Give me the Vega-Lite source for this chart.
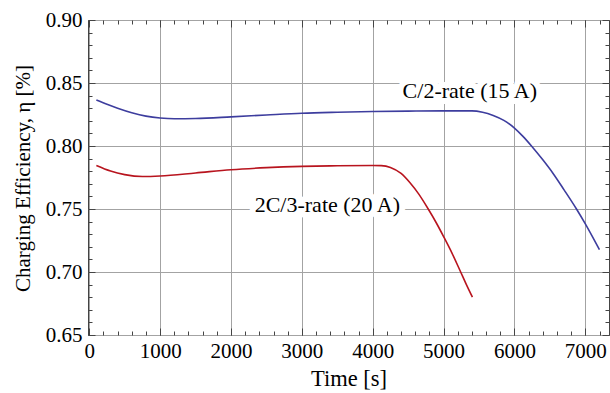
{
  "$schema": "https://vega.github.io/schema/vega-lite/v6.json",
  "width": 521,
  "height": 315,
  "autosize": "none",
  "padding": {"left": 88, "top": 20, "right": 1, "bottom": 58},
  "background": "white",
  "config": {
    "view": {"stroke": "#444444", "strokeWidth": 1},
    "axis": {
      "labelFont": "Liberation Serif",
      "titleFont": "Liberation Serif",
      "labelColor": "black",
      "titleColor": "black",
      "titleFontWeight": "normal",
      "gridColor": "#a3a3a3",
      "gridWidth": 1,
      "gridOpacity": 1,
      "tickColor": "#444444"
    }
  },
  "datasets": {
    "curves": [
      {"series": "C/2", "t": 100, "eff": 0.8365},
      {"series": "C/2", "t": 250, "eff": 0.8331},
      {"series": "C/2", "t": 400, "eff": 0.8300},
      {"series": "C/2", "t": 600, "eff": 0.8264},
      {"series": "C/2", "t": 800, "eff": 0.8237},
      {"series": "C/2", "t": 1000, "eff": 0.8222},
      {"series": "C/2", "t": 1200, "eff": 0.8216},
      {"series": "C/2", "t": 1500, "eff": 0.8218},
      {"series": "C/2", "t": 2000, "eff": 0.8231},
      {"series": "C/2", "t": 2500, "eff": 0.8246},
      {"series": "C/2", "t": 3000, "eff": 0.8260},
      {"series": "C/2", "t": 3500, "eff": 0.8268},
      {"series": "C/2", "t": 4000, "eff": 0.8274},
      {"series": "C/2", "t": 4500, "eff": 0.8277},
      {"series": "C/2", "t": 5000, "eff": 0.8279},
      {"series": "C/2", "t": 5400, "eff": 0.8279},
      {"series": "C/2", "t": 5550, "eff": 0.8268},
      {"series": "C/2", "t": 5700, "eff": 0.8242},
      {"series": "C/2", "t": 5850, "eff": 0.8203},
      {"series": "C/2", "t": 6000, "eff": 0.8142},
      {"series": "C/2", "t": 6120, "eff": 0.8076},
      {"series": "C/2", "t": 6240, "eff": 0.8000},
      {"series": "C/2", "t": 6400, "eff": 0.7890},
      {"series": "C/2", "t": 6545, "eff": 0.7782},
      {"series": "C/2", "t": 6700, "eff": 0.7652},
      {"series": "C/2", "t": 6875, "eff": 0.7500},
      {"series": "C/2", "t": 7000, "eff": 0.7382},
      {"series": "C/2", "t": 7100, "eff": 0.7281},
      {"series": "C/2", "t": 7200, "eff": 0.7177},
      {"series": "2C/3", "t": 100, "eff": 0.7845},
      {"series": "2C/3", "t": 300, "eff": 0.7801},
      {"series": "2C/3", "t": 500, "eff": 0.7773},
      {"series": "2C/3", "t": 750, "eff": 0.7758},
      {"series": "2C/3", "t": 1000, "eff": 0.7762},
      {"series": "2C/3", "t": 1500, "eff": 0.7786},
      {"series": "2C/3", "t": 2000, "eff": 0.7812},
      {"series": "2C/3", "t": 2500, "eff": 0.7828},
      {"series": "2C/3", "t": 3000, "eff": 0.7838},
      {"series": "2C/3", "t": 3500, "eff": 0.7843},
      {"series": "2C/3", "t": 4000, "eff": 0.7845},
      {"series": "2C/3", "t": 4120, "eff": 0.7844},
      {"series": "2C/3", "t": 4250, "eff": 0.7830},
      {"series": "2C/3", "t": 4400, "eff": 0.7782},
      {"series": "2C/3", "t": 4523, "eff": 0.7710},
      {"series": "2C/3", "t": 4650, "eff": 0.7618},
      {"series": "2C/3", "t": 4781, "eff": 0.7502},
      {"series": "2C/3", "t": 4900, "eff": 0.7387},
      {"series": "2C/3", "t": 5000, "eff": 0.7281},
      {"series": "2C/3", "t": 5120, "eff": 0.7148},
      {"series": "2C/3", "t": 5228, "eff": 0.7016},
      {"series": "2C/3", "t": 5320, "eff": 0.6902},
      {"series": "2C/3", "t": 5407, "eff": 0.6800}
    ],
    "labels": [
      {"label": "C/2-rate (15 A)", "t": 5370, "eff": 0.8438},
      {"label": "2C/3-rate (20 A)", "t": 3360, "eff": 0.7530}
    ]
  },
  "layer": [
    {
      "data": {"name": "curves"},
      "mark": {"type": "line", "strokeWidth": 1.6, "interpolate": "monotone"},
      "encoding": {
        "x": {
          "field": "t", "type": "quantitative",
          "scale": {"domain": [-18, 7334], "nice": false, "zero": false},
          "axis": {
            "orient": "bottom",
            "values": [0, 1000, 2000, 3000, 4000, 5000, 6000, 7000],
            "format": "d",
            "grid": true, "ticks": false, "domain": false,
            "labelFontSize": 21, "labelPadding": 5,
            "title": "Time [s]", "titleFontSize": 22.5,
            "titleBaseline": "alphabetic", "titleX": 260.5, "titleY": 50
          }
        },
        "y": {
          "field": "eff", "type": "quantitative",
          "scale": {"domain": [0.65, 0.9], "nice": false, "zero": false},
          "axis": {
            "orient": "left",
            "values": [0.65, 0.7, 0.75, 0.8, 0.85, 0.9],
            "format": ".2f",
            "grid": true, "ticks": false, "domain": false,
            "labelFontSize": 21, "labelPadding": 6,
            "title": "Charging Efficiency, η [%]", "titleFontSize": 21,
            "titleBaseline": "alphabetic", "titleX": -59, "titleY": 158
          }
        },
        "color": {
          "field": "series", "type": "nominal",
          "scale": {"domain": ["C/2", "2C/3"], "range": ["#3d3d9e", "#b8141e"]},
          "legend": null
        }
      }
    },
    {
      "data": {"name": "curves"},
      "mark": {"type": "point", "opacity": 0},
      "encoding": {
        "x": {
          "field": "t", "type": "quantitative",
          "scale": {"domain": [-18, 7334], "nice": false, "zero": false},
          "axis": {
            "orient": "bottom",
            "values": [0, 200, 400, 600, 800, 1000, 1200, 1400, 1600, 1800, 2000, 2200, 2400, 2600, 2800, 3000, 3200, 3400, 3600, 3800, 4000, 4200, 4400, 4600, 4800, 5000, 5200, 5400, 5600, 5800, 6000, 6200, 6400, 6600, 6800, 7000, 7200],
            "labels": false, "grid": false, "domain": false,
            "ticks": true, "tickSize": -4, "title": null
          }
        },
        "y": {
          "field": "eff", "type": "quantitative",
          "scale": {"domain": [0.65, 0.9], "nice": false, "zero": false},
          "axis": {
            "orient": "left",
            "values": [0.65, 0.66, 0.67, 0.68, 0.69, 0.7, 0.71, 0.72, 0.73, 0.74, 0.75, 0.76, 0.77, 0.78, 0.79, 0.8, 0.81, 0.82, 0.83, 0.84, 0.85, 0.86, 0.87, 0.88, 0.89, 0.9],
            "labels": false, "grid": false, "domain": false,
            "ticks": true, "tickSize": -4, "title": null
          }
        }
      }
    },
    {
      "data": {"name": "curves"},
      "mark": {"type": "point", "opacity": 0},
      "encoding": {
        "x": {
          "field": "t", "type": "quantitative",
          "scale": {"domain": [-18, 7334], "nice": false, "zero": false},
          "axis": {
            "orient": "bottom",
            "values": [0, 1000, 2000, 3000, 4000, 5000, 6000, 7000],
            "labels": false, "grid": false, "domain": false,
            "ticks": true, "tickSize": -7, "title": null
          }
        },
        "y": {
          "field": "eff", "type": "quantitative",
          "scale": {"domain": [0.65, 0.9], "nice": false, "zero": false},
          "axis": {
            "orient": "left",
            "values": [0.65, 0.7, 0.75, 0.8, 0.85, 0.9],
            "labels": false, "grid": false, "domain": false,
            "ticks": true, "tickSize": -7, "title": null
          }
        }
      }
    },
    {
      "data": {"name": "curves"},
      "mark": {"type": "point", "opacity": 0},
      "encoding": {
        "x": {
          "field": "t", "type": "quantitative",
          "scale": {"domain": [-18, 7334], "nice": false, "zero": false},
          "axis": {
            "orient": "top",
            "values": [0, 1000, 2000, 3000, 4000, 5000, 6000, 7000],
            "labels": false, "grid": false, "domain": false,
            "ticks": true, "tickSize": -7, "title": null
          }
        },
        "y": {
          "field": "eff", "type": "quantitative",
          "scale": {"domain": [0.65, 0.9], "nice": false, "zero": false},
          "axis": {
            "orient": "right",
            "values": [0.65, 0.7, 0.75, 0.8, 0.85, 0.9],
            "labels": false, "grid": false, "domain": false,
            "ticks": true, "tickSize": -7, "title": null
          }
        }
      }
    },
    {
      "data": {"name": "curves"},
      "mark": {"type": "point", "opacity": 0},
      "encoding": {
        "x": {
          "field": "t", "type": "quantitative",
          "scale": {"domain": [-18, 7334], "nice": false, "zero": false},
          "axis": {
            "orient": "top",
            "values": [0, 200, 400, 600, 800, 1000, 1200, 1400, 1600, 1800, 2000, 2200, 2400, 2600, 2800, 3000, 3200, 3400, 3600, 3800, 4000, 4200, 4400, 4600, 4800, 5000, 5200, 5400, 5600, 5800, 6000, 6200, 6400, 6600, 6800, 7000, 7200],
            "labels": false, "grid": false, "domain": false,
            "ticks": true, "tickSize": -4, "title": null
          }
        },
        "y": {
          "field": "eff", "type": "quantitative",
          "scale": {"domain": [0.65, 0.9], "nice": false, "zero": false},
          "axis": {
            "orient": "right",
            "values": [0.65, 0.66, 0.67, 0.68, 0.69, 0.7, 0.71, 0.72, 0.73, 0.74, 0.75, 0.76, 0.77, 0.78, 0.79, 0.8, 0.81, 0.82, 0.83, 0.84, 0.85, 0.86, 0.87, 0.88, 0.89, 0.9],
            "labels": false, "grid": false, "domain": false,
            "ticks": true, "tickSize": -4, "title": null
          }
        }
      }
    },
    {
      "data": {"name": "labels"},
      "mark": {"type": "text", "font": "Liberation Serif", "fontSize": 22, "align": "center", "baseline": "middle", "fill": "white", "stroke": "white", "strokeWidth": 12, "strokeJoin": "round"},
      "encoding": {
        "x": {"field": "t", "type": "quantitative", "scale": {"domain": [-18, 7334], "nice": false, "zero": false}, "axis": null},
        "y": {"field": "eff", "type": "quantitative", "scale": {"domain": [0.65, 0.9], "nice": false, "zero": false}, "axis": null},
        "text": {"field": "label"}
      }
    },
    {
      "data": {"name": "labels"},
      "mark": {"type": "text", "font": "Liberation Serif", "fontSize": 22, "align": "center", "baseline": "middle", "color": "black"},
      "encoding": {
        "x": {"field": "t", "type": "quantitative", "scale": {"domain": [-18, 7334], "nice": false, "zero": false}, "axis": null},
        "y": {"field": "eff", "type": "quantitative", "scale": {"domain": [0.65, 0.9], "nice": false, "zero": false}, "axis": null},
        "text": {"field": "label"}
      }
    }
  ],
  "resolve": {"axis": {"x": "independent", "y": "independent"}}
}
